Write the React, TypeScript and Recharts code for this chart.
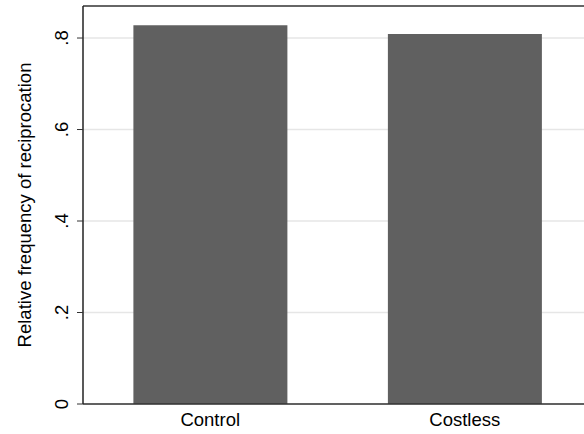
import { BarChart, Bar, XAxis, YAxis, CartesianGrid, ReferenceLine } from "recharts";

const treatments = ["Control", "Costless"];
const reciprocation = [0.828, 0.809];
const yTicks = [0, 0.2, 0.4, 0.6, 0.8];
const yMax = 0.87;

const data = treatments.map((name, i) => ({ name, value: reciprocation[i] }));

const font = '"Liberation Sans", Arial, Helvetica, sans-serif';

const fmt = (v: number) => (v === 0 ? "0" : String(v).replace(/^0/, ""));

function YTick(props: any) {
    const { x, y, payload } = props;
    return (
        <text
            x={x}
            y={y}
            transform={`rotate(-90, ${x}, ${y})`}
            textAnchor="middle"
            fontSize={18.5}
            fontFamily={font}
            fill="#000"
        >
            {fmt(payload.value)}
        </text>
    );
}

function YTitle(props: any) {
    const vb = props.viewBox || { y: 6, height: 398 };
    const cy = vb.y + vb.height / 2;
    const cx = 31;
    return (
        <text
            x={cx}
            y={cy}
            transform={`rotate(-90, ${cx}, ${cy})`}
            textAnchor="middle"
            fontSize={18.5}
            fontFamily={font}
            fill="#000"
        >
            Relative frequency of reciprocation
        </text>
    );
}

export default function App() {
    return (
        <div style={{ position: "absolute", left: 0, top: 0, width: 584, height: 434, overflow: "hidden", background: "#fff" }}>
            <BarChart
                width={592}
                height={434}
                data={data}
                margin={{ top: 6, right: 0, bottom: 0, left: 0 }}
                barCategoryGap="19.8%"
            >
                <CartesianGrid vertical={false} stroke="#e6e6e6" strokeWidth={1.5} horizontalValues={yTicks} />
                <XAxis
                    dataKey="name"
                    height={30}
                    tickLine={false}
                    axisLine={{ stroke: "#333", strokeWidth: 1.5 }}
                    tick={{ fontSize: 18.5, fontFamily: font, fill: "#000" }}
                    tickMargin={3}
                />
                <YAxis
                    width={83}
                    domain={[0, yMax]}
                    ticks={yTicks}
                    interval={0}
                    tickSize={6}
                    tickMargin={9}
                    tickLine={{ stroke: "#333", strokeWidth: 1 }}
                    axisLine={{ stroke: "#222", strokeWidth: 1.5 }}
                    tick={<YTick />}
                    label={{ content: (p: any) => <YTitle {...p} /> }}
                />
                <ReferenceLine y={yMax} stroke="#333" strokeWidth={1.5} />
                <Bar dataKey="value" fill="#606060" isAnimationActive={false} />
            </BarChart>
        </div>
    );
}
